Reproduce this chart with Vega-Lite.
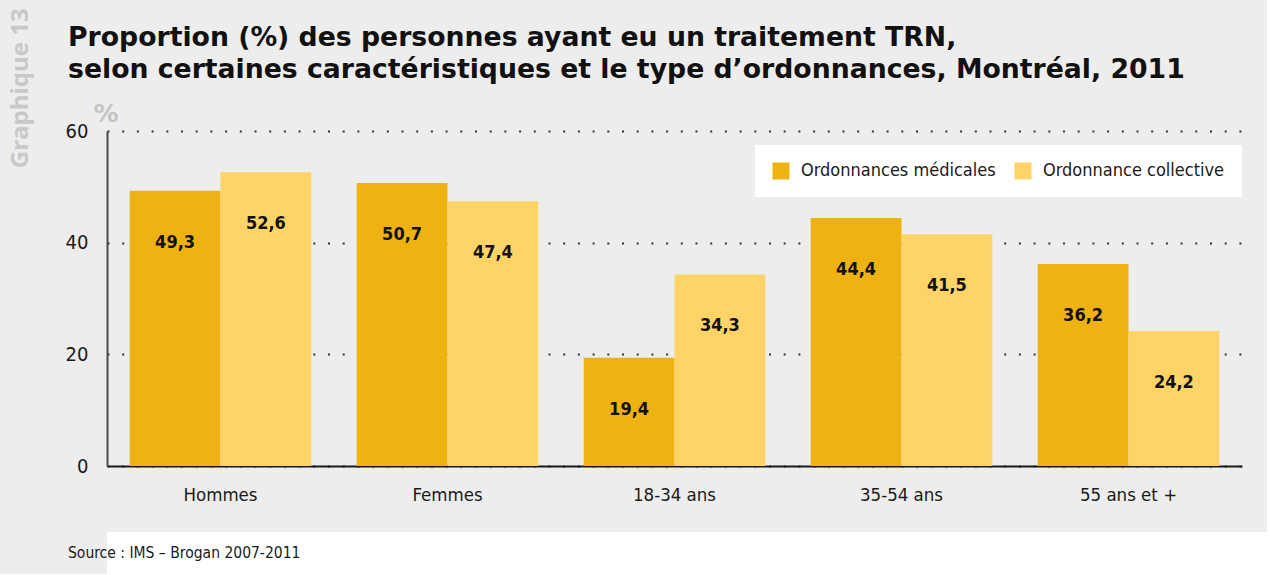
{
  "$schema": "https://vega.github.io/schema/vega-lite/v6.json",
  "background": "#ededed",
  "padding": {"left": 9, "top": 8, "right": 0, "bottom": 0},
  "bounds": "flush",
  "spacing": 66,
  "title": {"text": "Graphique 13", "orient": "left", "anchor": "end", "frame": "bounds", "font": "Open Sans", "fontWeight": "bold", "fontSize": 24, "color": "#c8c8c8", "offset": 32, "dx": 17},
  "config": {
    "locale": {"number": {"decimal": ",", "thousands": " ", "grouping": [3], "currency": ["", " $"]}},
    "view": {"stroke": null},
    "font": "DejaVu Sans Condensed, Roboto"
  },
  "vconcat": [
    {
      "width": 1135,
      "height": 335,
      "title": {
        "text": ["Proportion (%) des personnes ayant eu un traitement TRN,", "selon certaines caractéristiques et le type d’ordonnances, Montréal, 2011"],
        "anchor": "start", "frame": "group", "dx": -39, "offset": 17,
        "font": "DejaVu Sans", "fontWeight": "bold", "fontSize": 26.7, "lineHeight": 32, "color": "#111111"
      },
      "data": {"values": [
        {"cat": "Hommes", "type": "Ordonnances médicales", "value": 49.3},
        {"cat": "Hommes", "type": "Ordonnance collective", "value": 52.6},
        {"cat": "Femmes", "type": "Ordonnances médicales", "value": 50.7},
        {"cat": "Femmes", "type": "Ordonnance collective", "value": 47.4},
        {"cat": "18-34 ans", "type": "Ordonnances médicales", "value": 19.4},
        {"cat": "18-34 ans", "type": "Ordonnance collective", "value": 34.3},
        {"cat": "35-54 ans", "type": "Ordonnances médicales", "value": 44.4},
        {"cat": "35-54 ans", "type": "Ordonnance collective", "value": 41.5},
        {"cat": "55 ans et +", "type": "Ordonnances médicales", "value": 36.2},
        {"cat": "55 ans et +", "type": "Ordonnance collective", "value": 24.2}
      ]},
      "encoding": {
        "x": {
          "field": "cat", "type": "nominal", "sort": null,
          "scale": {"paddingInner": 0.2, "paddingOuter": 0.1},
          "axis": {"title": null, "labelAngle": 0, "labelFont": "DejaVu Sans Condensed, Roboto", "labelFontSize": 18.5, "labelColor": "#1a1a1a", "labelPadding": 19, "ticks": false, "domainColor": "#1a1a1a", "domainWidth": 2, "grid": false}
        },
        "xOffset": {"field": "type", "type": "nominal", "sort": ["Ordonnances médicales", "Ordonnance collective"], "scale": {"paddingInner": 0, "paddingOuter": 0}},
        "y": {
          "field": "value", "type": "quantitative",
          "scale": {"domain": [0, 60], "nice": false},
          "axis": {
            "values": [0, 20, 40, 60], "title": "%", "titleAngle": 0, "titleX": -14, "titleY": -10,
            "titleAlign": "left", "titleBaseline": "alphabetic", "titleFont": "DejaVu Sans", "titleFontWeight": "bold",
            "titleFontSize": 25, "titleColor": "#c4c4c4",
            "labelFont": "DejaVu Sans Condensed, Roboto", "labelFontSize": 20, "labelColor": "#1a1a1a", "labelPadding": 19, "ticks": false,
            "domainColor": "#4a4a4a", "domainWidth": 2,
            "grid": true, "gridColor": "#333333", "gridWidth": 2, "gridDash": [2, 12.7]
          }
        }
      },
      "layer": [
        {
          "mark": {"type": "bar"},
          "encoding": {
            "color": {
              "field": "type", "type": "nominal",
              "scale": {"domain": ["Ordonnances médicales", "Ordonnance collective"], "range": ["#EFB213", "#FED468"]},
              "legend": {
                "orient": "none", "legendX": 648, "legendY": 14, "direction": "horizontal", "title": null,
                "fillColor": "white", "padding": 17, "symbolType": "square", "symbolSize": 289, "symbolStrokeWidth": 0,
                "symbolOpacity": 1, "labelFontSize": 18, "labelFont": "DejaVu Sans Condensed, Roboto", "labelColor": "#1a1a1a",
                "labelOffset": 11, "columnPadding": 18, "labelLimit": 400
              }
            }
          }
        },
        {
          "mark": {"type": "text", "dy": 52, "fontSize": 18, "fontWeight": "bold", "font": "DejaVu Sans Condensed, Roboto", "color": "#111111", "baseline": "middle"},
          "encoding": {"text": {"field": "value", "type": "quantitative", "format": ".1f"}}
        }
      ]
    },
    {
      "width": 1160,
      "height": 42,
      "view": {"fill": "white", "stroke": null},
      "data": {"values": [{"source": "Source : IMS – Brogan 2007-2011"}]},
      "mark": {"type": "text", "align": "left", "dx": -39, "fontSize": 15.5, "font": "DejaVu Sans Condensed, Roboto", "color": "#1a1a1a", "baseline": "middle"},
      "encoding": {
        "text": {"field": "source", "type": "nominal"},
        "x": {"datum": 0, "type": "quantitative", "scale": {"domain": [0, 1]}, "axis": null}
      }
    }
  ]
}
